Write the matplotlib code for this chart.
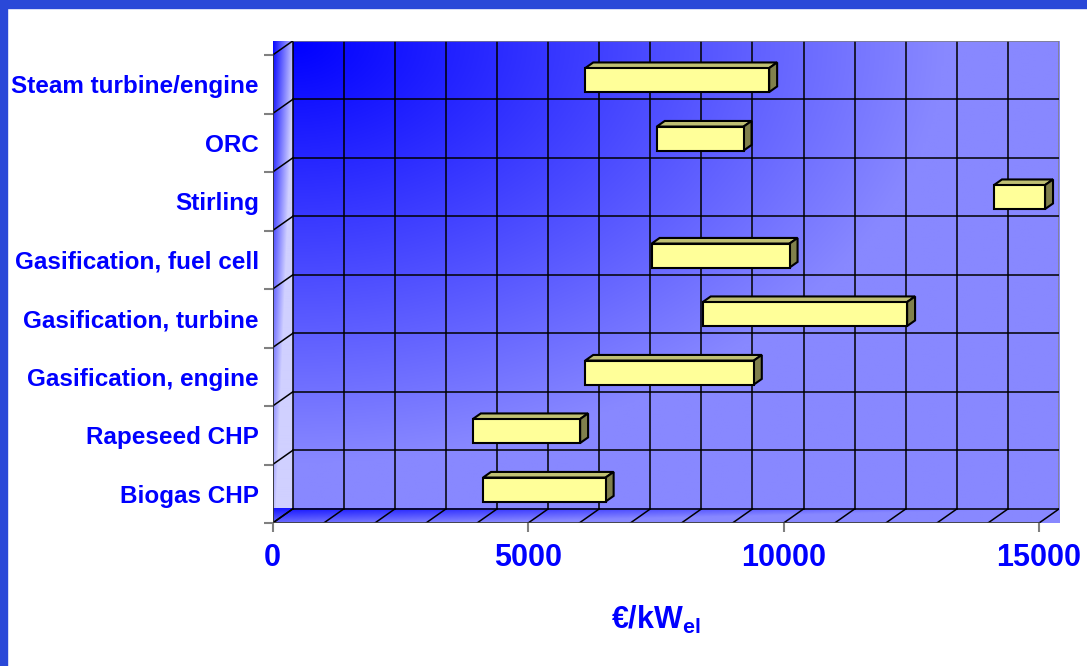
import numpy as np
import matplotlib.pyplot as plt
from matplotlib.patches import Polygon, Rectangle
from matplotlib.transforms import blended_transform_factory

# investment cost ranges of small biomass CHP technologies, EUR per kW electric
categories = ["Biogas CHP", "Rapeseed CHP", "Gasification, engine",
              "Gasification, turbine", "Gasification, fuel cell", "Stirling",
              "ORC", "Steam turbine/engine"]
cost_low = [4000, 3800, 6000, 8300, 7300, 14000, 7400, 6000]
cost_high = [6400, 5900, 9300, 12300, 10000, 15000, 9100, 9600]
x_ticks = [0, 5000, 10000, 15000]

plt.rcParams['font.family'] = ['Liberation Sans', 'DejaVu Sans']
plt.rcParams['mathtext.fontset'] = 'custom'
plt.rcParams['mathtext.rm'] = 'Liberation Sans:bold'
plt.rcParams['mathtext.bf'] = 'Liberation Sans:bold'

BLUE = '#0000ff'
X_MAX = 15000
DX, DY = 390, 0.24          # depth of the 3d box in data units
n = len(categories)
y0, y1 = -0.5, n - 0.5

W, H = 1087, 666
fig = plt.figure(figsize=(W / 100, H / 100), dpi=100)
fig.patch.set_facecolor('white')
# slide frame
fig.patches.append(Rectangle((0, 1 - 8 / H), 1, 8 / H, transform=fig.transFigure,
                             color='#2a48d8', zorder=0))
fig.patches.append(Rectangle((0, 0), 7 / W, 1, transform=fig.transFigure,
                             color='#2a48d8', zorder=0))

ax = fig.add_axes([272.7 / W, 1 - 523 / H, (1059 - 272.7) / W, (523 - 41) / H])
ax.set_facecolor('none')


def shade(t, dark=(0, 0, 255), light=(136, 136, 255)):
    t = np.clip(t, 0, 1)[..., None]
    return (np.array(dark) * (1 - t) + np.array(light) * t) / 255


# back wall: radial fade from the top left corner
gx, gy = np.meshgrid(np.linspace(0, 1, 300), np.linspace(0, 1, 200))
wall = shade(np.hypot(gx * 1.18, gy * 1.11))
ax.imshow(wall, extent=(DX, X_MAX + DX, y0 + DY, y1 + DY), origin='upper',
          aspect='auto', interpolation='bilinear', zorder=0)

# side wall
sx, sy = np.meshgrid(np.linspace(0, 1, 20), np.linspace(0, 1, 200))
side = shade(sx * 0.9 + sy * 0.9, dark=(10, 10, 255), light=(208, 208, 255))
ax.imshow(side, extent=(0, DX, y0, y1 + DY), origin='upper',
          aspect='auto', interpolation='bilinear', zorder=0.2)

# floor
fx, fy = np.meshgrid(np.linspace(0, 1, 300), np.linspace(0, 1, 20))
floor = shade(fy * 0.75 + fx * 1.0, dark=(20, 20, 255))
ax.imshow(floor, extent=(0, X_MAX + DX, y0, y0 + DY), origin='upper',
          aspect='auto', interpolation='bilinear', zorder=0.4)

# grid on walls and floor
grid_kw = dict(color='black', lw=1.1, zorder=1)
for k in range(0, X_MAX + 1, 1000):
    c = '#808080' if k == X_MAX else 'black'
    ax.plot([k + DX, k + DX], [y0 + DY, y1 + DY], color=c, lw=1.1, zorder=1)
    ax.plot([k, k + DX], [y0, y0 + DY], **grid_kw)
for j in range(n + 1):
    c = '#808080' if j == n else 'black'
    ax.plot([DX, X_MAX + DX], [y0 + j + DY, y0 + j + DY], color=c, lw=1.1, zorder=1)
    ax.plot([0, DX], [y0 + j, y0 + j + DY], **grid_kw)
ax.plot([0, 0], [y0, y1], color='#303030', lw=1.3, zorder=1)
ax.plot([0, X_MAX], [y0, y0], color='#404040', lw=1.3, zorder=1)

# floating 3d bars
front, back, half = 0.3, 0.7, 0.205
d = back - front
for i, (lo, hi) in enumerate(zip(cost_low, cost_high)):
    xa, xb = lo + front * DX, hi + front * DX
    ya, yb = i + front * DY - half, i + front * DY + half
    ox, oy = d * DX, d * DY
    top = Polygon([(xa, yb), (xb, yb), (xb + ox, yb + oy), (xa + ox, yb + oy)],
                  closed=True, fc='#bfbf73', ec='black', lw=1.5, zorder=3)
    right = Polygon([(xb, ya), (xb + ox, ya + oy), (xb + ox, yb + oy), (xb, yb)],
                    closed=True, fc='#80804c', ec='black', lw=1.5, zorder=3)
    face = Rectangle((xa, ya), xb - xa, yb - ya, fc='#ffff99', ec='black',
                     lw=1.5, zorder=4)
    ax.add_patch(top)
    ax.add_patch(right)
    ax.add_patch(face)

ax.set_xlim(0, X_MAX + DX)
ax.set_ylim(y0, y1 + DY)
for s in ax.spines.values():
    s.set_visible(False)

ax.set_xticks(x_ticks)
ax.set_xticklabels([str(v) for v in x_ticks], fontsize=22, fontweight='bold', color=BLUE)
ax.tick_params(axis='x', length=6.3, width=1.5, color='#808080', pad=8)

ax.set_yticks(np.arange(n + 1) - 0.5)
ax.set_yticklabels([])
ax.set_yticks(np.arange(n), minor=True)
ax.set_yticklabels(categories, minor=True, fontsize=17.5, fontweight='bold', color=BLUE)
ax.tick_params(axis='y', which='major', length=6.5, width=1.5, color='#808080')
ax.tick_params(axis='y', which='minor', length=0, pad=10)

# axis title centred under the front edge of the floor
ax.text(X_MAX / 2, 0.056, r'€/kW$_{\mathrm{el}}$',
        transform=blended_transform_factory(ax.transData, fig.transFigure),
        ha='center', va='baseline', fontsize=22, fontweight='bold', color=BLUE)

fig.savefig('out.png', dpi=100)
